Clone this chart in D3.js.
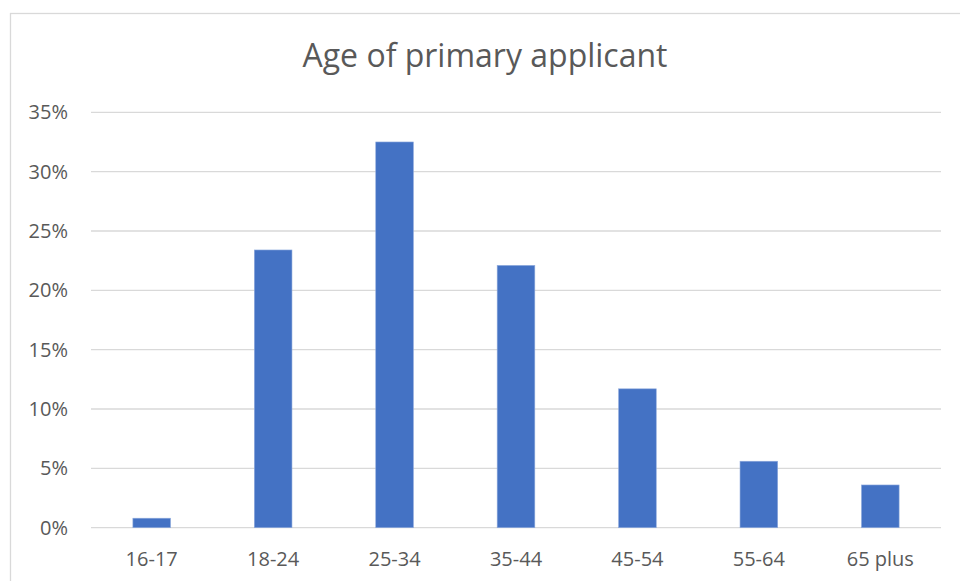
<!DOCTYPE html>
<html>
<head>
<meta charset="utf-8">
<script src="https://cdn.jsdelivr.net/npm/d3@7"></script>
<style>
  body { margin: 0; background: #fff; }
  svg { display: block; font-family: "Open Sans", sans-serif; }
</style>
</head>
<body>
<div id="chart"></div>
<script>
// data
var categories = ['16-17', '18-24', '25-34', '35-44', '45-54', '55-64', '65 plus'];
var shares = [0.8, 23.4, 32.5, 22.1, 11.7, 5.6, 3.6];
var yTicks = [0, 5, 10, 15, 20, 25, 30, 35];

var w = 960, h = 581;
var m = { top: 112.3, right: 19, bottom: 53.3, left: 91 };

var svg = d3.select('#chart')
            .append('svg')
            .attr('width', w)
            .attr('height', h);

// chart frame
svg.append('rect')
    .attr('x', 10.5).attr('y', 13.5)
    .attr('width', w + 20).attr('height', h + 20)
    .attr('fill', 'none')
    .attr('stroke', '#d9d9d9')
    .attr('stroke-width', 1.3);

svg.append('text')
    .attr('x', 485).attr('y', 67)
    .attr('text-anchor', 'middle')
    .attr('fill', '#595959')
    .attr('font-size', 32)
    .text('Age of primary applicant');

var x = d3.scaleBand()
    .domain(categories)
    .range([m.left, w - m.right])
    .paddingInner(0.69)
    .paddingOuter(0.345);

var y = d3.scaleLinear()
    .domain([0, 35])
    .range([h - m.bottom, m.top]);

//gridlines
svg.append('g')
    .selectAll('line')
    .data(yTicks)
  .enter()
  .append('line')
    .attr('x1', m.left)
    .attr('x2', w - m.right)
    .attr('y1', function(d) { return y(d); })
    .attr('y2', function(d) { return y(d); })
    .attr('stroke', '#d9d9d9')
    .attr('stroke-width', 1.3);

//y labels
svg.append('g')
    .selectAll('text')
    .data(yTicks)
  .enter()
  .append('text')
    .attr('x', 68)
    .attr('y', function(d) { return y(d) + 7; })
    .attr('text-anchor', 'end')
    .attr('fill', '#595959')
    .attr('font-size', 20)
    .text(function(d) { return d + '%'; });

//bars
svg.append('g')
    .selectAll('rect')
    .data(shares)
  .enter()
  .append('rect')
    .attr('x', function(d, i) { return x(categories[i]); })
    .attr('width', x.bandwidth())
    .attr('y', function(d) { return y(d); })
    .attr('height', function(d) { return y(0) - y(d); })
    .attr('fill', '#4472c4')
    .attr('stroke', '#8faadc')
    .attr('stroke-width', 0.6);

//x labels
svg.append('g')
    .selectAll('text')
    .data(categories)
  .enter()
  .append('text')
    .attr('x', function(d) { return x(d) + x.bandwidth() / 2; })
    .attr('y', 566)
    .attr('text-anchor', 'middle')
    .attr('fill', '#595959')
    .attr('font-size', 20)
    .text(function(d) { return d; });
</script>
</body>
</html>
